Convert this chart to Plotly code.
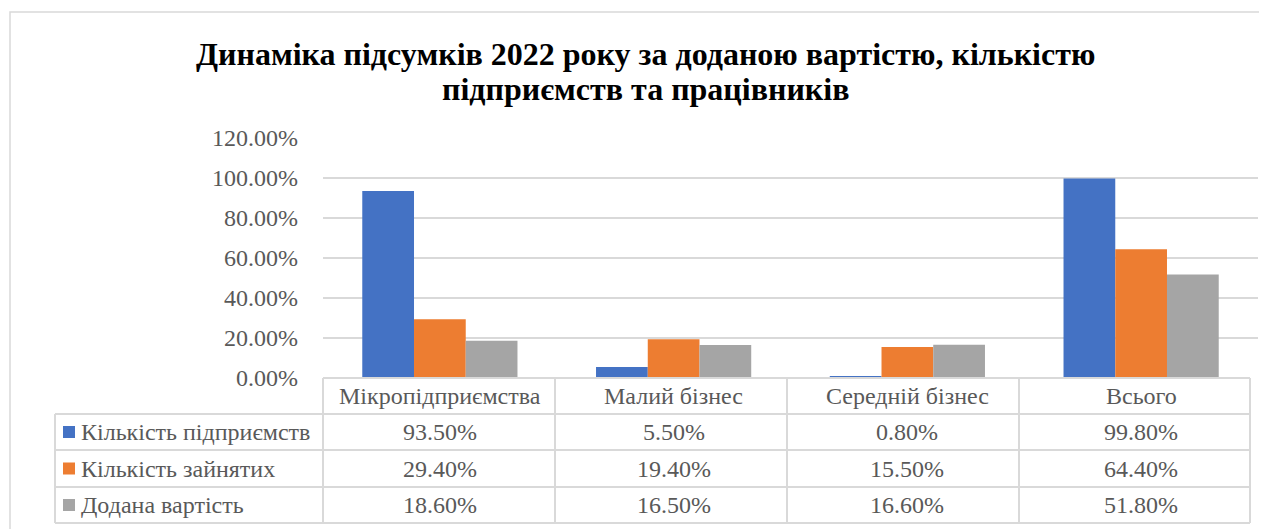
import plotly.graph_objects as go

categories = ["Мікропідприємства", "Малий бізнес", "Середній бізнес", "Всього"]
series_names = ["Кількість підприємств", "Кількість зайнятих", "Додана вартість"]
enterprises = [0.935, 0.055, 0.008, 0.998]
employed = [0.294, 0.194, 0.155, 0.644]
added_value = [0.186, 0.165, 0.166, 0.518]
series_values = [enterprises, employed, added_value]
colors = ["#4472C4", "#ED7D31", "#A5A5A5"]
y_ticks = [0, 0.2, 0.4, 0.6, 0.8, 1.0, 1.2]
title_lines = ["Динаміка підсумків 2022 року за доданою вартістю, кількістю", "підприємств та працівників"]

OFF = 8  # page body margin
W, H = 1267 - OFF, 529 - OFF
ML, MR, MT, MB = 323 - OFF, 17 - OFF, 138 - OFF, 151
PW = W - ML - MR
PH = H - MT - MB
FONT = "Liberation Serif"
GRAY_TXT = "#595959"
LINE = "#d9d9d9"
FS = 24


def fx(px):
    return (px - OFF - ML) / PW


def fy(py):
    return (H - MB - (py - OFF)) / PH


fig = go.Figure()
for name, vals, col in zip(series_names, series_values, colors):
    fig.add_trace(go.Bar(x=categories, y=vals, name=name, marker=dict(color=col, line=dict(width=0))))

shapes = []
annotations = []

shapes.append(dict(type="rect", xref="paper", yref="paper", x0=fx(10), x1=fx(1290), y0=fy(560), y1=fy(12),
                   line=dict(color=LINE, width=1.5), fillcolor="rgba(0,0,0,0)", layer="below"))

col_edges = [323, 555, 787, 1019, 1250]
row_edges = [378, 414, 450, 487, 523]
left_x = 55

shapes.append(dict(type="line", xref="paper", yref="paper", x0=fx(323), x1=fx(1250), y0=fy(378), y1=fy(378),
                   line=dict(color=LINE, width=2)))
for ry in row_edges[1:]:
    shapes.append(dict(type="line", xref="paper", yref="paper", x0=fx(left_x), x1=fx(1250), y0=fy(ry), y1=fy(ry),
                       line=dict(color=LINE, width=2)))
for cx in col_edges:
    shapes.append(dict(type="line", xref="paper", yref="paper", x0=fx(cx), x1=fx(cx), y0=fy(378), y1=fy(523),
                       line=dict(color=LINE, width=2)))
shapes.append(dict(type="line", xref="paper", yref="paper", x0=fx(left_x), x1=fx(left_x), y0=fy(414), y1=fy(523),
                   line=dict(color=LINE, width=2)))

hdr_c = (row_edges[0] + row_edges[1]) / 2
for cat in categories:
    annotations.append(dict(x=cat, xref="x", y=fy(hdr_c), yref="paper", text=cat, showarrow=False,
                            font=dict(family=FONT, size=FS, color=GRAY_TXT), xanchor="center", yanchor="middle"))

for i, (name, vals, col) in enumerate(zip(series_names, series_values, colors)):
    rc = (row_edges[i + 1] + row_edges[i + 2]) / 2
    shapes.append(dict(type="rect", xref="paper", yref="paper", x0=fx(63), x1=fx(75), y0=fy(rc + 6), y1=fy(rc - 6),
                       fillcolor=col, line=dict(width=0)))
    annotations.append(dict(x=fx(79), xref="paper", y=fy(rc), yref="paper", text=name, showarrow=False,
                            font=dict(family=FONT, size=FS, color=GRAY_TXT), xanchor="left", yanchor="middle"))
    for cat, v in zip(categories, vals):
        annotations.append(dict(x=cat, xref="x", y=fy(rc), yref="paper", text=f"{v * 100:.2f}%", showarrow=False,
                                font=dict(family=FONT, size=FS, color=GRAY_TXT), xanchor="center", yanchor="middle"))

for line_text, cy in zip(title_lines, [54, 89]):
    annotations.append(dict(x=fx(645), xref="paper", y=fy(cy), yref="paper", text=f"<b>{line_text}</b>",
                            showarrow=False, font=dict(family=FONT, size=32, color="#000000"),
                            xanchor="center", yanchor="middle"))

fig.update_layout(
    width=W, height=H,
    margin=dict(l=ML, r=MR, t=MT, b=MB),
    paper_bgcolor="white", plot_bgcolor="white",
    barmode="group", bargap=0.336, bargroupgap=0,
    showlegend=False,
    shapes=shapes, annotations=annotations,
    xaxis=dict(showticklabels=False, showgrid=False, showline=False, zeroline=False, ticks="",
               range=[-0.5, 3.5]),
    yaxis=dict(range=[0, 1.2], tickvals=y_ticks, tickformat=".2%", showgrid=True, gridcolor=LINE, gridwidth=1.5,
               zeroline=False, showline=False, ticks="", ticklabelstandoff=24,
               tickfont=dict(family=FONT, size=FS, color=GRAY_TXT)),
)

fig.write_html("out.html")
